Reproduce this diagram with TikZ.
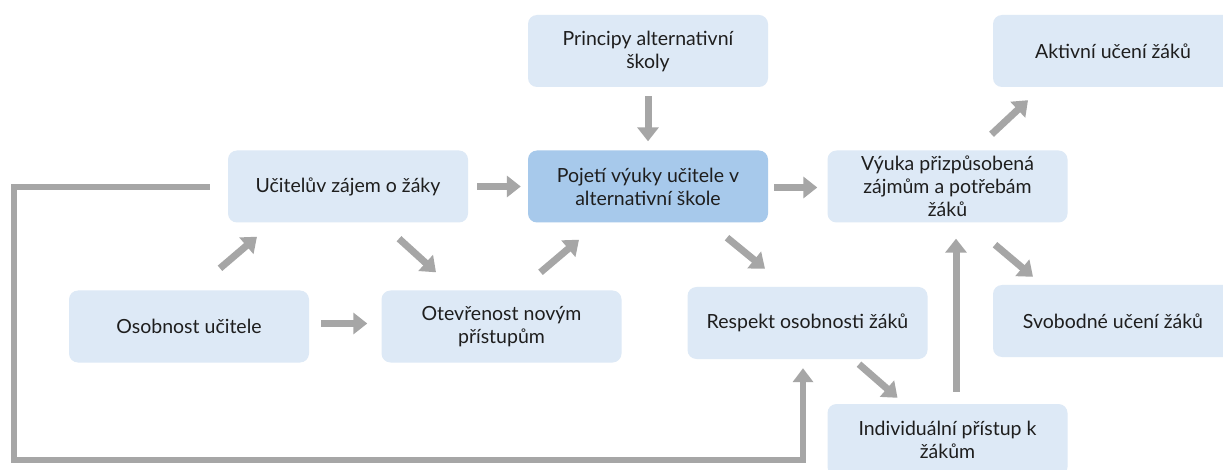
\documentclass[tikz,border=0pt]{standalone}
\usepackage{fontspec}
\setmainfont{Lato}
\usetikzlibrary{arrows.meta,calc}
\definecolor{boxlight}{HTML}{DDE9F6}
\definecolor{boxdark}{HTML}{A7C9EB}
\definecolor{arrgray}{HTML}{A6A6A6}
\definecolor{txt}{HTML}{1E1E1E}
\tikzset{
  box/.style={fill=boxlight, rounded corners=9pt, minimum width=240pt, minimum height=72pt,
    align=center, text=txt, font=\fontsize{19.5}{23}\selectfont, inner sep=0pt},
  mainbox/.style={box, fill=boxdark},
  conn/.style={draw=arrgray, line width=7pt, -{Triangle[width=21pt,length=14pt]}},
  loopline/.style={draw=arrgray, line width=6pt, -{Triangle[width=20pt,length=14pt]}}
}
\begin{document}
\begin{tikzpicture}[x=1pt,y=-1pt]
\clip (0,0) rectangle (1223,470);
\fill[white] (0,0) rectangle (1223,470);
\node[box] (princ) at (648,51) {Principy alternativní\\ školy};
\node[box] (aktiv) at (1113,51) {Aktivní učení žáků};
\node[box] (ucit) at (348,186.5) {Učitelův zájem o žáky};
\node[mainbox] (pojeti) at (648,186.5) {Pojetí výuky učitele v\\ alternativní škole};
\node[box] (vyuka) at (947.5,186.5) {Výuka přizpůsobená\\ zájmům a potřebám\\ žáků};
\node[box] (osob) at (189,326.5) {Osobnost učitele};
\node[box] (otev) at (501.5,326.5) {Otevřenost novým\\ přístupům};
\node[box] (resp) at (807.5,323) {Respekt osobnosti žáků};
\node[box] (svob) at (1113,321) {Svobodné učení žáků};
\node[box] (indiv) at (947.5,440) {Individuální přístup k\\ žákům};

\draw[conn] ($(osob.north)+(31,-22)$) -- ($(ucit.south)+(-91,14)$);
\draw[conn] ($(ucit.south)+(51,16)$) -- ($(otev.north)+(-65.5,-18)$);
\draw[conn] ($(otev.north)+(39,-18)$) -- ($(pojeti.south)+(-69,17)$);
\draw[conn] ($(osob.east)+(12,-3)$) -- ($(otev.west)+(-14,-3)$);
\draw[conn] ($(ucit.east)+(9,0)$) -- ($(pojeti.west)+(-7,0)$);
\draw[conn] ($(princ.south)+(0,9)$) -- ($(pojeti.north)+(0,-9)$);
\draw[conn] ($(pojeti.east)+(6,1)$) -- ($(vyuka.west)+(-10,1)$);
\draw[conn] ($(pojeti.south)+(79,15)$) -- ($(resp.north)+(-42.5,-18)$);
\draw[conn] ($(vyuka.north)+(44,-16)$) -- ($(aktiv.south)+(-85,13)$);
\draw[conn] ($(vyuka.south)+(47.5,22)$) -- ($(svob.north)+(-80,-8)$);
\draw[conn] ($(resp.south)+(51.5,5)$) -- ($(indiv.north)+(-50,-6)$);
\draw[conn] ($(indiv.north)+(8.5,-12)$) -- ($(vyuka.south)+(8.5,16)$);
\coordinate (lstart) at ($(ucit.west)+(-18,1)$);
\draw[loopline] (lstart) -| (14,460) -| ($(resp.south)+(-4.5,9)$);
\end{tikzpicture}
\end{document}
